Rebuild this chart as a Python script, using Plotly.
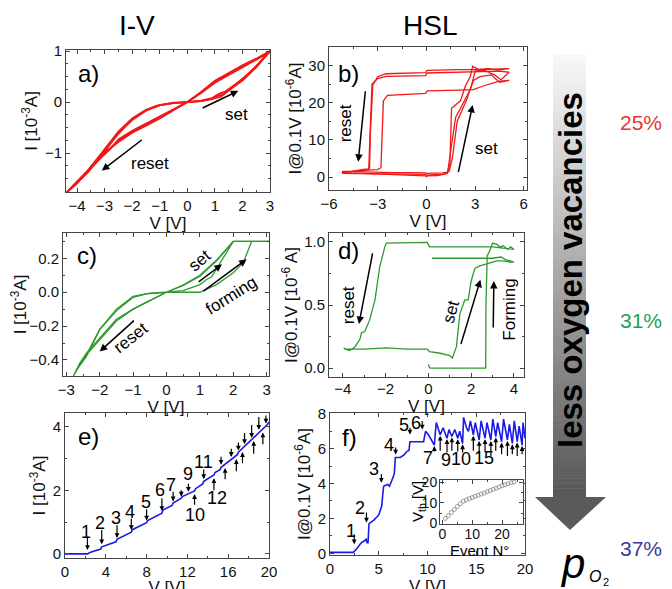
import plotly.graph_objects as go

# ---------------- data ----------------
# a) I-V, 25 %
a_v1 = [0, 0.5, 0.9, 1.1, 1.3, 1.6, 2.0, 2.5, 2.9, 3.0, 2.5, 2.0, 1.5, 1.0, 0.5, 0, -0.5, -1.0, -1.5, -2.0, -2.5, -2.9, -3.2, -3.6, -4.0, -4.4, -4.0, -3.6, -3.2, -2.9, -2.5, -2.0, -1.5, -1.1, -0.5, 0]
a_i1 = [0, 0.02, 0.06, 0.12, 0.15, 0.27, 0.42, 0.68, 0.93, 1.0, 0.85, 0.72, 0.57, 0.42, 0.2, 0, -0.15, -0.3, -0.44, -0.58, -0.76, -0.95, -1.1, -1.33, -1.55, -1.78, -1.55, -1.33, -1.06, -0.86, -0.58, -0.32, -0.15, -0.07, -0.02, 0]
a_v2 = [0, 0.5, 0.9, 1.15, 1.35, 1.7, 2.1, 2.5, 2.85, 3.0, 2.5, 2.0, 1.5, 1.0, 0.5, 0, -0.5, -1.0, -1.5, -2.0, -2.5, -2.8, -3.1, -3.6, -4.0, -4.35, -4.0, -3.6, -3.1, -2.8, -2.5, -2.0, -1.5, -1.0, -0.5, 0]
a_i2 = [0, 0.03, 0.08, 0.16, 0.2, 0.33, 0.48, 0.7, 0.92, 0.98, 0.83, 0.69, 0.53, 0.38, 0.18, 0, -0.14, -0.28, -0.42, -0.56, -0.73, -0.92, -1.07, -1.36, -1.58, -1.76, -1.59, -1.36, -1.02, -0.8, -0.6, -0.35, -0.17, -0.06, -0.02, 0]
a_v3 = [0, 0.5, 1.0, 1.2, 1.4, 1.8, 2.2, 2.6, 2.9, 3.0, 2.5, 2.0, 1.5, 1.0, 0.5, 0, -0.5, -1.0, -1.5, -2.0, -2.5, -3.0, -3.3, -3.6, -4.0, -4.4, -4.0, -3.6, -3.3, -3.0, -2.5, -2.0, -1.5, -1.0, -0.5, 0]
a_i3 = [0, 0.02, 0.08, 0.1, 0.18, 0.36, 0.55, 0.76, 0.95, 1.0, 0.84, 0.7, 0.55, 0.4, 0.19, 0, -0.16, -0.32, -0.46, -0.6, -0.78, -0.99, -1.15, -1.34, -1.56, -1.78, -1.57, -1.37, -1.16, -0.95, -0.62, -0.33, -0.16, -0.06, -0.01, 0]

# b) HSL, 25 %
b_v1 = [0, 0.6, 1.0, 1.3, 1.45, 1.55, 1.8, 2.1, 2.4, 2.7, 2.85, 3.2, 3.8, 4.4, 5.1, 4.6, 4.0, 3.0, 2.0, 1.0, 0.05, -0.05, -1.0, -2.0, -2.5, -3.0, -3.3, -3.45, -3.5, -3.6, -4.2, -5.2, -4.5, -3.5, -2.0, -1.0, -0.05, 0.05, 0.0]
b_i1 = [1.0, 1.0, 1.1, 1.3, 3.6, 18.5, 19.5, 20.5, 24.5, 27.0, 29.8, 29.0, 29.2, 28.8, 29.2, 29.1, 29.0, 28.9, 28.9, 28.8, 28.7, 28.1, 28.0, 28.0, 27.8, 27.0, 24.8, 12.0, 2.5, 1.9, 1.6, 1.5, 1.4, 1.3, 1.2, 1.2, 1.1, 0.8, 1.0]
b_v2 = [0, 0.6, 1.1, 1.4, 1.6, 1.9, 2.2, 2.5, 2.8, 3.0, 3.5, 4.2, 4.6, 5.1, 4.5, 3.5, 2.5, 1.5, 0.05, -0.05, -1.0, -2.0, -2.5, -3.0, -3.35, -3.45, -3.55, -4.0, -5.2, -4.0, -3.0, -2.0, -1.0, -0.05, 0.05, 0]
b_i2 = [0.5, 0.6, 0.8, 1.5, 5, 15, 18, 21, 25, 28.5, 28.8, 27.5, 26.2, 28.2, 28.5, 28.4, 28.3, 28.2, 28.0, 27.3, 27.2, 27.2, 27.1, 26.5, 25.0, 14, 2.2, 2.0, 1.0, 0.9, 0.8, 0.8, 0.7, 0.7, 0.4, 0.5]
b_v3 = [0, 0.7, 1.1, 1.3, 1.5, 1.8, 2.1, 2.4, 2.7, 2.9, 3.3, 4.0, 4.5, 5.1, 4.5, 3.5, 2.9, 2.0, 1.0, 0.05, -0.05, -1.0, -2.0, -2.4, -2.65, -2.75, -2.8, -3.0, -4.0, -5.2, -4.0, -3.0, -2.0, -1.0, -0.05, 0.05, 0]
b_i3 = [0.3, 0.4, 0.8, 1.0, 7, 16, 18.5, 21, 23.5, 26, 27, 27.5, 25.5, 26.0, 25.8, 24.5, 23.5, 23.4, 23.3, 23.2, 22.5, 22.3, 22.2, 22.0, 20.5, 10, 2.5, 2.0, 1.8, 1.2, 1.0, 0.8, 0.6, 0.5, 0.3, 0.0, 0.3]

# c) I-V, 31 %
c_v1 = [0, 0.5, 1.0, 1.5, 2.0, 2.3, 2.55, 2.8, 3.07, 2.55, 2.0, 1.5, 1.0, 0.5, 0, -0.5, -1.0, -1.5, -2.0, -2.4, -2.6, -2.8, -2.6, -2.4, -2.0, -1.5, -1.2, -1.0, -0.6, -0.3, 0]
c_i1 = [0, 0, 0.0, 0.045, 0.115, 0.175, 0.3, 0.3, 0.3, 0.3, 0.3, 0.185, 0.095, 0.04, 0, -0.05, -0.1, -0.16, -0.27, -0.36, -0.42, -0.5, -0.43, -0.37, -0.22, -0.11, -0.06, -0.03, -0.01, -0.003, 0]
c_v2 = [0, 0.5, 1.0, 1.2, 1.35, 1.5, 1.7, 2.0, 3.07, 2.0, 1.5, 1.0, 0.5, 0, -0.5, -1.0, -1.5, -2.0, -2.4, -2.7, -2.4, -2.0, -1.5, -1.0, -0.5, 0]
c_i2 = [0, 0.01, 0.045, 0.075, 0.09, 0.14, 0.2, 0.3, 0.3, 0.3, 0.19, 0.1, 0.042, 0, -0.05, -0.1, -0.17, -0.28, -0.37, -0.46, -0.38, -0.22, -0.1, -0.025, -0.005, 0]

# d) HSL, 31 %
d_v = [0.0, 0.05, 0.1, 1.0, 2.0, 2.68, 2.69, 2.75, 2.87, 3.0, 3.2, 3.35, 3.5, 3.7, 3.85, 4.0, 3.5, 3.0, 2.0, 1.0, 0.05, -0.05, -1.0, -1.97, -2.04, -2.28, -2.5, -2.75, -2.98, -3.13, -3.2, -3.43, -3.67, -3.9, -3.96, -3.85, -3.0, -2.0, -1.0, -0.05, 0.05, 0.5, 1.0, 1.12, 1.31, 1.47, 1.7, 1.86, 2.0, 2.17, 2.4, 2.87, 3.2, 3.5, 3.8, 4.0, 3.6, 3.4, 3.0, 2.0, 1.0, 0.17]
d_i = [0.03, 0.005, 0.0, 0.0, 0.0, 0.0, 0.5, 0.89, 0.93, 0.99, 0.98, 0.96, 0.97, 0.94, 0.96, 0.94, 0.95, 0.96, 0.96, 0.96, 0.96, 0.995, 0.99, 0.99, 0.96, 0.8, 0.54, 0.38, 0.29, 0.28, 0.23, 0.17, 0.14, 0.15, 0.16, 0.15, 0.15, 0.16, 0.15, 0.15, 0.13, 0.12, 0.1, 0.08, 0.17, 0.43, 0.54, 0.54, 0.69, 0.79, 0.81, 0.83, 0.85, 0.85, 0.84, 0.84, 0.86, 0.88, 0.87, 0.87, 0.87, 0.87]

# e) I-V, 37 %
e_v = [0, 1, 2.2, 2.5, 3.0, 3.5, 3.6, 4.0, 4.5, 5.0, 5.1, 5.5, 6.0, 6.5, 6.6, 7.0, 7.5, 8.0, 8.1, 8.5, 9.0, 9.5, 9.6, 10.0, 10.5, 10.6, 11.0, 11.4, 11.5, 12.0, 12.7, 12.8, 13.5, 13.6, 14.0, 14.6, 14.7, 15.2, 15.3, 15.6, 16.0, 16.3, 16.9, 17.0, 17.5, 18.0, 18.5, 19.0, 19.5, 19.8, 20.0]
e_i = [0.0, 0.0, 0.0, 0.05, 0.1, 0.15, 0.22, 0.26, 0.33, 0.38, 0.46, 0.52, 0.6, 0.68, 0.76, 0.82, 0.9, 0.98, 1.05, 1.12, 1.2, 1.28, 1.38, 1.45, 1.52, 1.6, 1.67, 1.75, 1.8, 1.88, 1.98, 2.05, 2.2, 2.28, 2.35, 2.48, 2.56, 2.65, 2.72, 2.8, 2.88, 2.98, 3.12, 3.2, 3.35, 3.5, 3.65, 3.8, 3.95, 4.05, 4.15]
e_lab = ["1", "2", "3", "4", "5", "6", "7", "9", "11", "10", "12"]
e_lab_v = [2.1, 3.4, 5.0, 6.4, 7.9, 9.3, 10.4, 12.1, 13.6, 12.7, 14.9]
e_lab_i = [0.70, 0.97, 1.13, 1.32, 1.64, 2.0, 2.17, 2.5, 2.9, 1.23, 1.75]
e_dn_v = [2.2, 3.6, 5.1, 6.5, 8.0, 9.5, 10.6, 11.4, 12.1, 13.6, 15.3, 16.3, 17.0, 17.6, 18.3, 19.0, 19.7]
e_dn_top = [0.55, 0.8, 0.95, 1.15, 1.45, 1.8, 2.0, 2.05, 2.25, 2.7, 3.1, 3.35, 3.55, 3.85, 4.1, 4.35, 4.4]
e_dn_tip = [0.12, 0.3, 0.5, 0.75, 1.05, 1.35, 1.65, 1.8, 1.95, 2.35, 2.8, 3.05, 3.25, 3.45, 3.65, 3.9, 4.1]
e_up_v = [12.7, 14.6, 15.7, 16.8, 17.4, 18.5, 19.4]
e_up_low = [1.5, 1.95, 2.3, 2.55, 2.8, 3.1, 3.4]
e_up_tip = [1.88, 2.38, 2.7, 2.98, 3.2, 3.55, 3.82]

# f) HSL, 37 %
f_v = [0, 1.0, 2.4, 2.8, 3.2, 3.5, 3.7, 3.8, 3.9, 4.0, 4.5, 5.0, 5.3, 5.4, 5.5, 5.9, 6.1, 6.5, 6.6, 6.7, 7.2, 7.6, 7.9, 8.1, 8.2, 9.6,
       9.8, 10.1, 10.7, 10.8, 10.9, 11.3, 11.6, 12.0, 12.2, 12.5, 12.8, 13.1, 13.3, 13.6, 13.7, 14.0, 14.2, 14.4, 14.7, 14.9,
       15.3, 15.5, 15.9, 16.1, 16.5, 16.7, 17.0, 17.2, 17.6, 17.8, 18.2, 18.4, 18.7, 18.9, 19.2, 19.4, 19.7, 19.8, 20.0]
f_i = [0.05, 0.05, 0.05, 0.3, 0.6, 0.7, 0.8, 0.6, 0.6, 1.7, 1.9, 2.2, 2.7, 3.3, 3.85, 3.95, 3.85, 4.4, 4.6, 5.5, 5.5, 5.65, 5.85, 5.9, 6.4, 6.4,
       7.0, 6.8, 6.2, 6.9, 7.5, 6.8, 7.2, 6.6, 7.1, 6.7, 7.1, 6.6, 7.0, 6.3, 7.8, 7.2, 7.0, 7.6, 6.8, 7.5,
       6.5, 7.6, 6.6, 7.5, 6.5, 7.7, 6.7, 7.5, 6.4, 7.7, 6.5, 7.4, 6.3, 7.6, 6.4, 7.3, 6.2, 7.5, 6.6]
f_lab = ["1", "2", "3", "4", "5", "6"]
f_lab_v = [2.14, 3.1, 4.56, 6.06, 7.6, 8.8]
f_lab_i = [1.28, 2.6, 4.85, 6.24, 7.39, 7.48]
f_dn_v = [2.48, 3.74, 5.27, 6.73, 8.2, 9.46]
f_dn_top = [1.18, 2.42, 4.62, 6.15, 7.29, 7.67]
f_dn_tip = [0.52, 1.76, 4.05, 5.67, 6.81, 7.1]
f_lab2 = ["7", "9", "10", "15"]
f_lab2_v = [10.1, 11.9, 13.4, 15.75]
f_lab2_i = [5.48, 5.38, 5.42, 5.48]
f_up_v = [10.7, 11.3, 12.0, 12.5, 13.1, 13.6, 14.7, 15.3, 15.9, 16.5, 17.0, 17.6, 18.2, 18.7, 19.2, 19.7]
f_up_low = [5.75, 5.8, 5.7, 5.8, 5.75, 5.7, 5.8, 5.6, 5.7, 5.5, 5.8, 5.6, 5.5, 5.6, 5.5, 5.6]
f_up_tip = [6.15, 6.75, 6.55, 6.65, 6.55, 6.25, 6.75, 6.45, 6.55, 6.45, 6.65, 6.35, 6.45, 6.25, 6.35, 6.15]

# inset: threshold voltage vs event number
ins_ev = [1, 2, 3, 4, 5, 6, 7, 8, 9, 10, 11, 12, 13, 14, 15, 16, 17, 18, 19, 20, 21, 22, 23, 24]
ins_vth = [2.4, 3.7, 5.3, 6.7, 8.2, 9.5, 10.7, 11.3, 12.0, 12.5, 13.1, 13.6, 14.2, 14.7, 15.3, 15.9, 16.5, 17.0, 17.6, 18.2, 18.7, 19.2, 19.7, 20.0]

# ---------------- figure ----------------
W, H = 672, 589
OFF = 8  # the page places the figure 8 px from the window's top-left corner
FONT = "Liberation Sans, Arial, Helvetica, sans-serif"
RED, GREEN, BLUE = "#f01818", "#2e9a2e", "#1a1ae6"


def px(x):
    return (x - OFF) / W


def py(y):
    return 1 - (y - OFF) / H


def dx(l, r):
    return [px(l), px(r)]


def dy(t, b):
    return [py(b), py(t)]


fig = go.Figure()


def add_line(xs, ys, ax_id, color, width):
    xa = "x" if ax_id == 1 else f"x{ax_id}"
    ya = "y" if ax_id == 1 else f"y{ax_id}"
    fig.add_trace(go.Scatter(x=xs, y=ys, mode="lines", xaxis=xa, yaxis=ya,
                             line=dict(color=color, width=width), showlegend=False, hoverinfo="skip"))


for v, i in [(a_v1, a_i1), (a_v2, a_i2), (a_v3, a_i3)]:
    add_line(v, i, 1, RED, 1.8)
for v, i in [(b_v1, b_i1), (b_v2, b_i2), (b_v3, b_i3)]:
    add_line(v, i, 2, RED, 1.3)
for v, i in [(c_v1, c_i1), (c_v2, c_i2)]:
    add_line(v, i, 3, GREEN, 1.3)
add_line(d_v, d_i, 4, GREEN, 1.3)
add_line(e_v, e_i, 5, BLUE, 1.6)
add_line(f_v, f_i, 6, BLUE, 1.6)
fig.add_trace(go.Scatter(x=ins_ev, y=ins_vth, mode="markers", xaxis="x7", yaxis="y7", showlegend=False,
                         marker=dict(symbol="circle-open", size=4, color="#888", line=dict(width=0.8)), hoverinfo="skip"))


def axis(domain, rng, tickvals, title, anchor, minor_dtick, fmt=None, tsize=15, titlesize=17, standoff=0, lstand=0):
    d = dict(domain=domain, range=rng, tickvals=tickvals, anchor=anchor, automargin=False,
             showline=True, linecolor="#444", linewidth=1, mirror="ticks",
             ticks="inside", ticklen=4, tickcolor="#444", showgrid=False, zeroline=False,
             ticklabelstandoff=lstand,
             tickfont=dict(family=FONT, size=tsize, color="#111"),
             minor=dict(ticks="inside", ticklen=2, tickcolor="#444", dtick=minor_dtick, showgrid=False),
             title=dict(text=title, font=dict(family=FONT, size=titlesize, color="#111"), standoff=standoff))
    if fmt:
        d["tickformat"] = fmt
    return d


layout_axes = {
    "xaxis": axis(dx(66, 270), [-4.4, 3.0], [-4, -3, -2, -1, 0, 1, 2, 3], "V [V]", "y", 0.5),
    "yaxis": axis(dy(50, 192), [-1.76, 1.02], [-1, 0, 1], "I [10<sup>-3</sup>A]", "x", 0.25, standoff=2),
    "xaxis2": axis(dx(329, 527), [-6, 6.2], [-6, -3, 0, 3, 6], "V [V]", "y2", 1.5),
    "yaxis2": axis(dy(47, 190), [-3.5, 35], [0, 10, 20, 30], "I@0.1V [10<sup>-6</sup>A]", "x2", 5, standoff=2),
    "xaxis3": axis(dx(63, 269), [-3.1, 3.07], [-3, -2, -1, 0, 1, 2, 3], "V [V]", "y3", 0.5),
    "yaxis3": axis(dy(233, 376), [-0.495, 0.35], [-0.4, -0.2, 0.0, 0.2], "I [10<sup>-3</sup>A]", "x3", 0.1, ".1f", standoff=2),
    "xaxis4": axis(dx(329, 524), [-4.65, 4.47], [-4, -2, 0, 2, 4], "V [V]", "y4", 1, lstand=-2),
    "yaxis4": axis(dy(233, 377), [-0.07, 1.07], [0.0, 0.5, 1.0], "I@0.1V [10<sup>-6</sup> A]", "x4", 0.25, ".1f", standoff=2),
    "xaxis5": axis(dx(65, 269), [0, 20], [0, 4, 8, 12, 16, 20], "V [V]", "y5", 2),
    "yaxis5": axis(dy(413, 558), [-0.13, 4.43], [0, 2, 4], "I [10<sup>-3</sup>A]", "x5", 1, standoff=2),
    "xaxis6": axis(dx(330, 525), [0, 20], [0, 5, 10, 15, 20], "V [V]", "y6", 2.5),
    "yaxis6": axis(dy(413, 555), [-0.1, 8.05], [0, 2, 4, 6, 8], "I@0.1V [10<sup>-6</sup>A]", "x6", 1, standoff=2),
    "xaxis7": axis(dx(440, 523), [-0.8, 27], [0, 10, 20], "", "y7", 5, tsize=14, lstand=-3),
    "yaxis7": axis(dy(480, 524), [-0.3, 21], [0, 10, 20], "", "x7", 5, tsize=14, lstand=-1),
}

annotations = []


def arrow(k, x0, y0, x1, y1, width=1.5, size=1.0):
    xa = "x" if k == 1 else f"x{k}"
    ya = "y" if k == 1 else f"y{k}"
    annotations.append(dict(x=x1, y=y1, ax=x0, ay=y0, xref=xa, yref=ya, axref=xa, ayref=ya, text="",
                            showarrow=True, arrowhead=2, arrowsize=size, arrowwidth=width, arrowcolor="black"))


def text(k, x, y, s, size=17, angle=0):
    xa = "x" if k == 1 else f"x{k}"
    ya = "y" if k == 1 else f"y{k}"
    annotations.append(dict(x=x, y=y, xref=xa, yref=ya, text=s, showarrow=False, textangle=angle,
                            xanchor="center", yanchor="middle",
                            font=dict(family=FONT, size=size, color="black")))


def ptext(x, y, s, size, color="black", angle=0, weight="normal"):
    annotations.append(dict(x=px(x), y=py(y), xref="paper", yref="paper", text=s, showarrow=False,
                            xanchor="center", yanchor="middle", textangle=angle,
                            font=dict(family=FONT, size=size, color=color, weight=weight)))


# column titles and panel letters
ptext(137, 25, "I-V", 28)
ptext(430, 25, "HSL", 28)
for lab, (x, y) in zip(["a)", "b)", "c)", "d)", "e)", "f)"],
                       [(88, 73), (348, 73), (87, 255), (348, 250), (88, 436), (349, 437)]):
    ptext(x, y, lab, 24)

# inset axis titles
ptext(480, 550, "Event N°", 15)
ptext(418, 502, "V<sub>th</sub> [V]", 15, angle=-90)

# a)
arrow(1, 0.5, -0.13, 1.85, 0.22)
text(1, 1.8, -0.25, "set")
arrow(1, -1.6, -0.72, -3.1, -1.34)
text(1, -1.35, -1.2, "reset")
# b)
arrow(2, -3.75, 23.5, -4.2, 4.1)
text(2, -5.0, 14.5, "reset", angle=-90)
arrow(2, 1.95, 0.9, 2.85, 19.4)
text(2, 3.7, 7.7, "set")
# c)
arrow(3, 0.92, 0.055, 1.66, 0.165)
arrow(3, 1.06, 0.0, 2.4, 0.195)
text(3, 1.0, 0.19, "set", angle=-40)
text(3, 1.95, -0.02, "forming", angle=-32)
arrow(3, -0.93, -0.16, -2.0, -0.35)
text(3, -1.05, -0.27, "reset", angle=-38)
# d)
arrow(4, -2.6, 0.92, -3.25, 0.35)
text(4, -3.75, 0.5, "reset", angle=-90)
arrow(4, 1.5, 0.18, 2.43, 0.7)
text(4, 1.05, 0.45, "set", angle=-75)
arrow(4, 3.03, 0.31, 3.06, 0.69)
text(4, 3.75, 0.46, "Forming", angle=-90)
# e)
for s, x, y in zip(e_lab, e_lab_v, e_lab_i):
    text(5, x, y, s, size=18)
for x, y0, y1 in zip(e_dn_v, e_dn_top, e_dn_tip):
    arrow(5, x, y0, x, y1, width=1.2, size=0.8)
for x, y0, y1 in zip(e_up_v, e_up_low, e_up_tip):
    arrow(5, x, y0, x, y1, width=1.2, size=0.8)
# f)
for s, x, y in zip(f_lab, f_lab_v, f_lab_i):
    text(6, x, y, s, size=18)
for x, y0, y1 in zip(f_dn_v, f_dn_top, f_dn_tip):
    arrow(6, x, y0, x, y1, width=1.2, size=0.8)
for s, x, y in zip(f_lab2, f_lab2_v, f_lab2_i):
    text(6, x, y, s, size=18)
for x, y0, y1 in zip(f_up_v, f_up_low, f_up_tip):
    arrow(6, x, y0, x, y1, width=1.2, size=0.8)

# right-hand side: gradient arrow and labels
shapes = []
top, bot, left, right = 55, 498, 553, 586
n = 90
for k in range(n):
    t0 = top + (bot - top) * k / n
    t1 = top + (bot - top) * (k + 1) / n + 0.5
    g = int(248 - (248 - 88) * k / (n - 1))
    shapes.append(dict(type="rect", xref="paper", yref="paper", x0=px(left), x1=px(right), y0=py(t1), y1=py(t0),
                       fillcolor=f"rgb({g},{g},{g})", line=dict(width=0), layer="below"))
shapes.append(dict(type="path", xref="paper", yref="paper",
                   path=f"M {px(535)} {py(497)} L {px(606)} {py(497)} L {px(570)} {py(530)} Z",
                   fillcolor="#5a5a5a", line=dict(width=0)))

ptext(570, 270, "less oxygen vacancies", 33, angle=-90, weight="bold")
ptext(641, 123, "25%", 21, color="#e8362d")
ptext(641, 320, "31%", 21, color="#1fa05a")
ptext(641, 548, "37%", 21, color="#3a3a9a")
ptext(572, 563, "<i>p</i>", 42)
ptext(595, 576, "<i>O</i>", 16)
ptext(606, 582, "2", 11)

fig.update_layout(width=W, height=H, margin=dict(l=0, r=0, t=0, b=0, autoexpand=False),
                  paper_bgcolor="white", plot_bgcolor="white", showlegend=False,
                  font=dict(family=FONT, color="#111"),
                  annotations=annotations, shapes=shapes, **layout_axes)

fig.write_html("out.html")
